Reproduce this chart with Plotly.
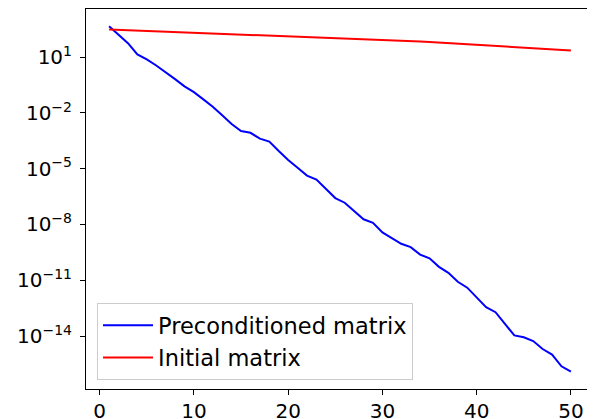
import numpy as np
import plotly.graph_objects as go

iterations = list(range(1, 51))

# log10 of the values
precond_log10 = [2.66, 2.20, 1.75, 1.15, 0.88, 0.55, 0.20, -0.18, -0.57, -0.88,
                 -1.27, -1.67, -2.13, -2.60, -2.97, -3.07, -3.38, -3.54, -4.05, -4.53,
                 -4.95, -5.37, -5.58, -6.07, -6.58, -6.83, -7.28, -7.72, -7.91, -8.43,
                 -8.73, -9.04, -9.22, -9.62, -9.82, -10.28, -10.60, -11.08, -11.40, -11.93,
                 -12.45, -12.72, -13.35, -13.97, -14.07, -14.27, -14.70, -15.00, -15.63, -15.92]
initial_log10 = [2.49, 2.47, 2.46, 2.44, 2.42, 2.40, 2.39, 2.37, 2.35, 2.33,
                 2.31, 2.29, 2.28, 2.26, 2.24, 2.22, 2.21, 2.19, 2.17, 2.15,
                 2.13, 2.11, 2.09, 2.07, 2.05, 2.03, 2.01, 1.99, 1.96, 1.94,
                 1.91, 1.89, 1.86, 1.84, 1.81, 1.78, 1.76, 1.73, 1.70, 1.67,
                 1.64, 1.61, 1.58, 1.55, 1.52, 1.49, 1.46, 1.43, 1.40, 1.36]

precond = np.power(10.0, precond_log10)
initial = np.power(10.0, initial_log10)

y_tick_exps = [1, -2, -5, -8, -11, -14]
y_tick_vals = [10.0 ** e for e in y_tick_exps]
y_tick_text = ["10<sup>%s</sup>" % (str(e).replace("-", "\u2212")) for e in y_tick_exps]
x_tick_vals = [0, 10, 20, 30, 40, 50]

FONT = "DejaVu Sans"

fig = go.Figure()
fig.add_trace(go.Scatter(x=iterations, y=precond, mode="lines", name="Preconditioned matrix",
                         line=dict(color="#0000ff", width=2), legendgroup="a"))
fig.add_trace(go.Scatter(x=iterations, y=initial, mode="lines", name="Initial matrix",
                         line=dict(color="#ff0000", width=2), legendgroup="b"))

# the page body adds an 8px offset, so the figure is sized to end at the window edge
fig.update_layout(
    width=587, height=411,
    margin=dict(l=78, r=1, t=1, b=30, autoexpand=False),
    paper_bgcolor="white", plot_bgcolor="white",
    font=dict(family=FONT, size=20, color="black"),
    showlegend=True,
    legend=dict(x=0.0217, y=0.226, xanchor="left", yanchor="top",
                bgcolor="rgba(255,255,255,0.8)", bordercolor="#cccccc", borderwidth=1,
                font=dict(family=FONT, size=22.5), tracegroupgap=0, itemwidth=50),
    xaxis=dict(range=[-1.45, 52.45], tickvals=x_tick_vals, showgrid=False, zeroline=False,
               showline=True, mirror=True, linecolor="black", linewidth=1,
               ticks="outside", ticklen=5, tickcolor="black", automargin=False,
               tickfont=dict(family=FONT, size=20), ticklabelstandoff=-1),
    yaxis=dict(type="log", range=[-16.85, 3.59], tickvals=y_tick_vals, ticktext=y_tick_text,
               showgrid=False, zeroline=False, showline=True, mirror=True, automargin=False,
               linecolor="black", linewidth=1, ticks="outside", ticklen=5, tickcolor="black",
               tickfont=dict(family=FONT, size=20), ticklabelstandoff=4),
)

fig.write_html("out.html")
